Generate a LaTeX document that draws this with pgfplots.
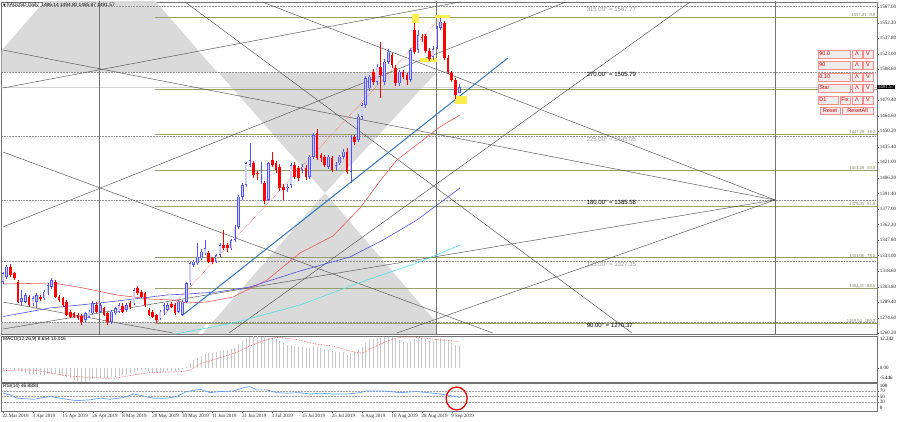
\documentclass[border=0pt]{standalone}
\usepackage{fontspec}
\setmainfont{Liberation Sans}
\newfontfamily\scalefont{Liberation Serif}
\newfontfamily\symfont{DejaVu Sans}
\usepackage{pgfplots}
\usepackage{pgfplotstable}
\pgfplotsset{compat=1.18}

\definecolor{bullc}{RGB}{85,85,255}
\definecolor{bullfill}{RGB}{205,205,255}
\definecolor{bearc}{RGB}{255,0,0}
\definecolor{fibc}{RGB}{150,160,110}
\definecolor{shade}{RGB}{218,218,218}
\definecolor{trendc}{RGB}{50,120,190}
\definecolor{mared}{RGB}{240,90,90}
\definecolor{mablue}{RGB}{80,80,235}
\definecolor{macyan}{RGB}{80,225,230}
\definecolor{rsic}{RGB}{100,160,240}

% candles: index, open, high, low, close
\pgfplotstableread{
i o h l c
0 1308.5 1318.0 1306.0 1316.4
1 1313.2 1324.5 1311.0 1322.6
5 1289.7 1300.7 1286.6 1292.8
6 1289.7 1298.0 1288.0 1296.0
8 1288.1 1295.0 1286.0 1292.8
9 1289.7 1298.0 1283.4 1296.0
11 1292.8 1300.5 1291.0 1299.1
12 1297.6 1307.0 1296.0 1305.4
13 1303.8 1311.7 1302.0 1310.1
22 1272.5 1280.0 1271.0 1278.7
23 1275.6 1282.0 1274.0 1280.3
24 1278.7 1290.0 1277.0 1288.1
26 1280.3 1288.0 1279.0 1286.6
29 1270.9 1282.0 1269.0 1280.3
30 1278.7 1285.0 1277.0 1283.4
31 1280.3 1288.0 1279.0 1286.6
33 1281.9 1288.0 1280.0 1286.6
35 1288.1 1303.0 1287.0 1300.7
42 1274.0 1282.0 1272.0 1280.3
43 1278.7 1288.0 1277.0 1286.6
44 1281.9 1288.0 1280.5 1286.6
47 1280.3 1291.0 1279.0 1289.7
48 1277.2 1291.0 1276.5 1289.7
49 1289.7 1308.0 1288.0 1307.0
50 1307.0 1327.0 1305.0 1325.8
51 1324.2 1329.0 1322.0 1327.3
52 1325.8 1344.6 1324.0 1332.1
53 1330.5 1339.0 1329.0 1336.8
54 1335.2 1347.7 1334.0 1339.9
57 1327.3 1335.0 1326.0 1333.6
58 1333.6 1344.5 1332.0 1343.0
61 1339.9 1349.0 1338.0 1347.7
62 1347.7 1362.0 1346.0 1360.3
63 1360.3 1390.0 1358.0 1388.5
64 1388.5 1401.0 1385.0 1399.5
65 1399.5 1421.5 1398.0 1419.9
66 1418.3 1438.7 1416.0 1423.0
69 1410.0 1421.0 1400.0 1410.6
71 1385.4 1421.0 1384.0 1419.9
76 1396.4 1400.0 1393.0 1397.9
77 1399.5 1420.0 1397.0 1418.3
80 1413.6 1419.0 1411.0 1416.8
82 1407.3 1428.0 1405.0 1426.2
83 1426.2 1448.0 1424.0 1446.6
87 1416.8 1428.0 1415.0 1426.2
89 1415.2 1421.0 1413.0 1418.3
90 1419.9 1428.0 1418.0 1426.2
91 1426.2 1433.0 1424.0 1430.9
93 1412.0 1447.0 1401.1 1445.0
95 1441.8 1466.0 1440.0 1463.8
96 1463.8 1477.0 1461.0 1474.8
97 1474.8 1502.0 1472.0 1499.9
98 1490.5 1503.0 1488.0 1501.5
100 1496.7 1513.0 1494.0 1510.9
102 1496.7 1518.0 1494.0 1515.6
103 1515.6 1527.0 1513.0 1525.0
106 1495.2 1508.0 1493.0 1506.2
109 1498.3 1528.0 1496.0 1526.5
111 1526.5 1545.0 1524.0 1540.6
115 1520.0 1530.0 1517.0 1527.0
116 1528.5 1549.0 1527.0 1547.3
117 1547.3 1557.0 1545.0 1553.2
122 1486.14 1494.80 1485.87 1491.57
}\bull

\pgfplotstableread{
i o h l c
2 1322.6 1325.0 1313.0 1314.8
3 1316.4 1318.0 1310.0 1311.7
4 1308.5 1310.0 1288.0 1289.7
7 1294.4 1296.0 1285.0 1286.6
10 1293.8 1296.0 1290.0 1291.9
14 1308.5 1310.0 1293.0 1294.4
15 1294.4 1296.0 1289.0 1291.3
16 1292.8 1294.0 1285.0 1286.6
17 1289.7 1291.0 1276.0 1277.2
18 1280.3 1282.0 1274.0 1275.6
19 1278.7 1280.0 1274.0 1275.6
20 1277.2 1279.0 1272.5 1274.0
21 1276.2 1278.0 1267.7 1270.9
25 1286.6 1289.0 1279.0 1280.3
27 1283.4 1285.0 1276.0 1277.2
28 1278.7 1280.0 1268.0 1270.9
32 1285.6 1288.0 1279.0 1280.3
34 1288.1 1290.0 1283.0 1285.0
36 1302.3 1304.0 1296.0 1297.6
37 1299.1 1300.5 1293.0 1294.4
38 1297.6 1299.0 1285.0 1286.6
39 1281.9 1284.0 1276.0 1277.2
40 1280.3 1282.0 1274.0 1275.6
41 1277.2 1278.5 1269.5 1272.5
45 1287.5 1289.0 1283.5 1285.0
46 1286.6 1288.0 1277.0 1278.7
55 1335.2 1337.0 1326.0 1327.3
56 1330.5 1332.0 1325.0 1327.3
59 1343.0 1357.1 1338.0 1339.9
60 1343.0 1344.5 1336.0 1339.9
67 1419.9 1422.0 1406.0 1408.9
68 1410.5 1413.0 1404.0 1409.9
70 1401.0 1403.0 1382.0 1384.0
72 1423.0 1431.0 1416.0 1418.3
73 1419.9 1422.0 1411.0 1413.6
74 1416.8 1419.0 1394.0 1396.4
75 1397.9 1400.0 1385.0 1394.8
78 1418.3 1421.0 1405.0 1407.3
79 1415.2 1417.0 1403.0 1405.8
81 1415.2 1418.0 1404.0 1407.3
84 1448.1 1452.5 1423.0 1424.6
85 1427.7 1430.0 1421.0 1424.6
86 1426.2 1428.0 1416.0 1418.3
88 1424.6 1427.0 1412.0 1413.6
92 1430.9 1434.0 1410.0 1412.0
94 1445.0 1447.0 1437.0 1440.3
99 1506.2 1509.0 1494.0 1496.7
101 1510.9 1534.4 1481.1 1503.0
104 1521.8 1524.0 1510.0 1512.4
105 1509.3 1512.0 1493.0 1495.2
107 1506.2 1508.0 1499.0 1501.5
108 1503.0 1505.0 1493.6 1498.3
110 1545.4 1552.0 1523.0 1525.0
112 1539.0 1542.0 1534.0 1538.4
113 1540.0 1542.0 1524.0 1526.0
114 1526.0 1528.0 1516.0 1518.0
118 1552.0 1554.0 1517.0 1519.0
119 1519.0 1522.0 1504.0 1505.8
120 1505.0 1507.0 1496.0 1498.3
121 1498.3 1500.0 1480.0 1484.2
}\bear

\pgfplotstableread{
i v
0 1306.3
13.4 1307.3
21.4 1302.6
30.5 1296.0
39.3 1292.2
45.5 1291.3
49.2 1288.5
54.5 1289.4
61.5 1294.1
70.6 1310.1
79.4 1335.5
88.2 1351.5
95.5 1377.9
100.8 1403.3
105.3 1423.0
112.3 1441.8
116.8 1454.1
122.2 1465.4
}\mared

\pgfplotstableread{
i v
0 1275.7
12.6 1283.8
25.9 1288.5
34.8 1292.2
43.9 1296.0
49.2 1296.9
57.2 1298.8
66.0 1303.5
79.4 1318.6
92.8 1331.8
101.6 1347.7
110.7 1366.6
122.2 1396.7
}\mablue

\pgfplotstableread{
i v
44.7 1258.3
61.5 1269.6
79.4 1286.6
97.3 1310.1
110.7 1326.1
122.2 1343.0
}\macyan

\pgfplotstableread{
i m
0 -0.8
1 -0.6
2 -0.5
3 -0.7
4 -1.2
5 -1.6
6 -1.9
7 -2.2
8 -2.4
9 -2.5
10 -2.6
11 -2.6
12 -2.5
13 -2.3
14 -2.5
15 -2.8
16 -3.1
17 -3.6
18 -4.0
19 -4.5
20 -5.1
21 -5.4
22 -5.3
23 -4.9
24 -4.4
25 -4.1
26 -3.9
27 -3.8
28 -3.9
29 -3.7
30 -3.4
31 -3.1
32 -2.9
33 -2.6
34 -2.3
35 -1.6
36 -1.1
37 -0.8
38 -0.9
39 -1.2
40 -1.5
41 -1.8
42 -1.8
43 -1.6
44 -1.4
45 -1.2
46 -1.2
47 -0.9
48 -0.6
49 0.4
50 1.8
51 2.9
52 3.8
53 4.6
54 5.3
55 5.6
56 5.7
57 5.9
58 6.3
59 6.7
60 6.9
61 7.2
62 7.8
63 9.1
64 10.2
65 11.4
66 12.0
67 12.24
68 12.1
69 11.9
70 11.3
71 11.5
72 11.4
73 11.0
74 10.3
75 9.5
76 8.8
77 8.8
78 8.5
79 8.1
80 7.9
81 7.5
82 7.6
83 8.4
84 8.2
85 7.8
86 7.2
87 6.9
88 6.4
89 6.0
90 5.9
91 5.9
92 5.0
93 5.6
94 5.9
95 6.9
96 8.0
97 9.6
98 10.6
99 11.1
100 11.6
101 11.6
102 11.8
103 12.0
104 11.7
105 11.0
106 10.6
107 10.1
108 9.6
109 10.2
110 10.9
111 11.3
112 11.3
113 10.9
114 10.4
115 10.3
116 10.9
117 11.5
118 11.0
119 10.2
120 9.6
121 8.9
122 8.654
}\macdhist

\pgfplotstableread{
i s
0 -1.1
8 -0.9
17 -3.0
25 -3.8
30 -3.9
39 -1.9
49 -1.2
53 1.6
62 5.7
66 8.4
71 11.0
73 11.7
78 11.0
84 9.1
88 8.4
93 6.4
96 5.7
98 7.1
102 9.8
106 11.7
111 11.7
115 11.0
120 10.4
122 10.016
}\macdsig

\pgfplotstableread{
i r
0 62
1.9 56
3.7 44
8.1 40
12.6 50
17.0 40
19.7 35
23.3 38
26.0 44
28.6 40
32.2 46
34.9 59
37.5 52
40.2 44
43.8 44
46.4 50
49.1 68
52.7 76
55.4 64
58.0 68
61.6 70
64.3 82
66.0 86
67.8 74
70.5 74
73.2 64
75.9 62
79.4 64
82.1 59
84.8 62
88.3 59
91.9 59
95.5 64
97.2 70
101.7 70
106.2 64
110.6 68
115.1 62
118.6 56
120.9 50
122.2 46.9
}\rsi

\pgfplotsset{
  mt/.style={scale only axis, anchor=south west, width=875.3pt,
    xmin=-0.35, xmax=233.7, clip mode=individual,
    axis line style={draw=black!55, line width=0.7pt},
    tick align=outside, major tick length=2pt,
    tick style={draw=black!60, line width=0.4pt},
    ticklabel style={font=\scalefont\fontsize{5}{5}\selectfont, text=black!85},
    xtick=\empty, ytick pos=right, yticklabel pos=right,
    yticklabel style={anchor=west, inner sep=0.6pt}},
  gl/.style={draw=black!68, line width=0.45pt},
  lvl/.style={draw=black!42, densely dotted, line width=0.55pt},
  fib/.style={draw=fibc, line width=0.8pt},
}
\tikzset{
  fibtxt/.style={anchor=south east, inner sep=0.4pt, font=\scalefont\fontsize{4.6}{5}\selectfont, text=fibc!75!black},
  gtxt/.style={anchor=north west, inner sep=0.5pt, font=\fontsize{6}{6}\selectfont},
}

\newcommand\bx[5]{\draw[draw=red!45, fill=black!7, line width=0.6pt] (#1pt,#2pt) rectangle (#3pt,#4pt);
  \path (#1pt,#2pt) -- (#3pt,#4pt) node[midway, inner sep=0pt, font=\fontsize{5.5}{6}\selectfont, text=red!85!black] {#5};}
\newcommand\bxl[5]{\draw[draw=red!45, fill=black!7, line width=0.6pt] (#1pt,#2pt) rectangle (#3pt,#4pt);
  \path (#1pt,#2pt) -- (#1pt,#4pt) node[midway, anchor=west, xshift=1.2pt, inner sep=0pt, font=\fontsize{5.5}{6}\selectfont, text=red!85!black] {#5};}

\begin{document}
\begin{tikzpicture}
\useasboundingbox (0,0) rectangle (900pt,422pt);
\fill[white] (0,0) rectangle (900pt,422pt);

% ---------------- price window ----------------
\begin{axis}[mt, at={(1.7pt,88pt)}, height=332pt,
  ymin=1259.3, ymax=1571.7,
  ytick={1567.00,1552.20,1537.80,1523.00,1508.60,1479.40,1464.60,1450.20,1435.40,1421.00,1406.20,1391.40,1377.00,1362.20,1347.80,1333.00,1318.60,1303.80,1289.40,1274.60,1260.20},
  yticklabels={1567.00,1552.20,1537.80,1523.00,1508.60,1479.40,1464.60,1450.20,1435.40,1421.00,1406.20,1391.40,1377.00,1362.20,1347.80,1333.00,1318.60,1303.80,1289.40,1274.60,1260.20},
]
% shaded gann triangles
\addplot[fill=shade, draw=none] coordinates {(25.9,1632.9) (-5.3,1505.8) (57.2,1505.8)};
\addplot[fill=shade, draw=none] coordinates {(57.5,1505.8) (116.0,1505.8) (86.1,1392.0)};
\addplot[fill=shade, draw=none] coordinates {(86.1,1392.0) (116.0,1269.6) (116.0,1250) (51.0,1250)};
\addplot[fill=shade, draw=none] coordinates {(-2.9,1270.6) (54.8,1270.6) (25.9,1153.9)};

% fibonacci levels
\addplot[fib] coordinates {(40.6,1557.01) (240,1557.01)};
\addplot[fib] coordinates {(40.6,1489.17) (240,1489.17)};
\addplot[fib] coordinates {(40.6,1447.20) (240,1447.20)};
\addplot[fib] coordinates {(40.6,1413.28) (240,1413.28)};
\addplot[fib] coordinates {(40.6,1379.35) (240,1379.35)};
\addplot[fib] coordinates {(40.6,1331.06) (240,1331.06)};
\addplot[fib] coordinates {(40.6,1302.31) (240,1302.31)};
\addplot[fib] coordinates {(40.6,1269.54) (240,1269.54)};

% gann levels
\addplot[lvl] coordinates {(-1,1567.77) (240,1567.77)};
\addplot[lvl] coordinates {(-1,1505.79) (240,1505.79)};
\addplot[lvl] coordinates {(-1,1445.05) (240,1445.05)};
\addplot[lvl] coordinates {(-1,1385.58) (240,1385.58)};
\addplot[lvl] coordinates {(-1,1327.35) (240,1327.35)};
\addplot[lvl] coordinates {(-1,1270.37) (240,1270.37)};
\addplot[draw=black!18, line width=0.8pt] coordinates {(-1,1491.57) (240,1491.57)};

% time verticals
\addplot[draw=black!55, line width=0.8pt] coordinates {(25.9,1250) (25.9,1580)};
\addplot[draw=black!55, line width=0.8pt] coordinates {(116.0,1250) (116.0,1580)};
\addplot[draw=black!55, line width=0.8pt] coordinates {(206.4,1250) (206.4,1580)};

% gann angle lines
\addplot[gl] coordinates {(0,1526.5) (206.4,1385.4)};
\addplot[gl] coordinates {(0,1490.8) (122.2,1571.7)};
\addplot[gl] coordinates {(0,1430.5) (131.0,1260.2)};
\addplot[gl] coordinates {(0,1360.0) (150.5,1571.7)};
\addplot[gl] coordinates {(48.7,1571.7) (168.2,1260.2)};
\addplot[gl] coordinates {(0,1289.4) (45.5,1260.2)};
\addplot[gl] coordinates {(0,1264.0) (206.4,1385.4)};
\addplot[gl] coordinates {(69.3,1571.7) (206.4,1385.4)};
\addplot[gl] coordinates {(105.3,1260.2) (206.4,1385.4)};
\addplot[gl] coordinates {(60.4,1260.2) (183.7,1571.7)};

% moving averages
\addplot[draw=mared, line width=0.6pt] table[x=i, y=v] {\mared};
\addplot[draw=mablue, line width=0.6pt] table[x=i, y=v] {\mablue};
\addplot[draw=macyan, line width=0.6pt] table[x=i, y=v] {\macyan};

% trend line and fibo baseline
\addplot[draw=trendc, line width=1.0pt] coordinates {(48.1,1277.2) (135.0,1519.0)};
\addplot[draw=red!60, densely dotted, line width=0.6pt] coordinates {(41,1269.54) (117,1557.01)};

% highlight boxes
\addplot[fill=yellow!90!orange!70, draw=none] coordinates {(109.4,1560.4) (111.2,1560.4) (111.2,1551.9) (109.4,1551.9)};
\addplot[fill=yellow!90!orange!70, draw=none] coordinates {(115.5,1559.5) (119.5,1559.5) (119.5,1556.6) (115.5,1556.6)};
\addplot[fill=yellow!90!orange!70, draw=none] coordinates {(111.5,1519.0) (116.0,1519.0) (116.0,1515.2) (111.5,1515.2)};
\addplot[fill=yellow!90!orange!70, draw=none] coordinates {(120.9,1483.3) (124.1,1483.3) (124.1,1475.7) (120.9,1475.7)};

% candles
\addplot[bullc, line width=0.6pt, quiver={u=0, v=\thisrow{h}-\thisrow{l}}] table[x=i, y=l] {\bull};
\addplot[bearc, line width=0.6pt, quiver={u=0, v=\thisrow{h}-\thisrow{l}}] table[x=i, y=l] {\bear};
\addplot[bullc, line width=2.6pt, quiver={u=0, v=\thisrow{c}-\thisrow{o}}] table[x=i, y=o] {\bull};
\addplot[bullfill, line width=1.2pt, quiver={u=0, v=\thisrow{c}-\thisrow{o}-1.2}] table[x=i, y expr=\thisrow{o}+0.6] {\bull};
\addplot[bearc, line width=2.6pt, quiver={u=0, v=\thisrow{c}-\thisrow{o}}] table[x=i, y=o] {\bear};

% level labels
\node[gtxt, text=black!40] at (axis cs:155.9,1567.77) {315.00° = 1567.77};
\node[gtxt] at (axis cs:155.9,1505.79) {270.00° = 1505.79};
\node[gtxt, text=black!40] at (axis cs:155.9,1445.05) {225.00° = 1445.05};
\node[gtxt] at (axis cs:155.9,1385.58) {180.00° = 1385.58};
\node[gtxt, text=black!40] at (axis cs:155.9,1327.35) {135.00° = 1327.35};
\node[gtxt] at (axis cs:155.9,1270.37) {90.00° = 1270.37};

\node[fibtxt] at (axis cs:233.4,1557.01) {1557.01\hspace{3pt}0.0};
\node[fibtxt] at (axis cs:233.4,1447.20) {1447.20\hspace{3pt}38.2};
\node[fibtxt] at (axis cs:233.4,1413.28) {1413.28\hspace{3pt}50.0};
\node[fibtxt] at (axis cs:233.4,1379.35) {1379.35\hspace{3pt}61.8};
\node[fibtxt] at (axis cs:233.4,1331.06) {1331.06\hspace{3pt}78.6};
\node[fibtxt] at (axis cs:233.4,1302.31) {1302.31\hspace{3pt}88.6};
\node[fibtxt] at (axis cs:233.4,1269.54) {1269.54\hspace{3pt}100.0};

\node[anchor=west, fill=black, text=white, inner sep=0.5pt, font=\scalefont\fontsize{5}{5}\selectfont] at (axis cs:233.75,1491.57) {1491.57};
\end{axis}

% ---------------- MACD window ----------------
\begin{axis}[mt, at={(1.7pt,40pt)}, height=46pt,
  ymin=-5.446, ymax=12.242, ytick={0}, yticklabels={0.00}]
\addplot[draw=black!22, line width=0.8pt, quiver={u=0, v=\thisrow{m}}] table[x=i, y expr=0] {\macdhist};
\addplot[draw=red!75, densely dotted, line width=0.6pt, smooth] table[x=i, y=s] {\macdsig};
\end{axis}

% ---------------- RSI window ----------------
\begin{axis}[mt, at={(1.7pt,11pt)}, height=28pt,
  ymin=-2.5, ymax=99, ytick={30,50,70}, yticklabels={30,50,70},
  xtick={0,8,...,120}, xtick pos=bottom,
  xticklabels={22 Mar 2019,3 Apr 2019,15 Apr 2019,26 Apr 2019,8 May 2019,20 May 2019,30 May 2019,11 Jun 2019,21 Jun 2019,3 Jul 2019,15 Jul 2019,25 Jul 2019,6 Aug 2019,16 Aug 2019,28 Aug 2019,9 Sep 2019},
  xticklabel style={anchor=north west, inner sep=0.5pt, xshift=-1pt}]
\addplot[draw=black!35, densely dotted, line width=0.5pt] coordinates {(-1,70) (240,70)};
\addplot[draw=black!35, densely dotted, line width=0.5pt] coordinates {(-1,50) (240,50)};
\addplot[draw=black!35, densely dotted, line width=0.5pt] coordinates {(-1,30) (240,30)};
\addplot[draw=rsic, line width=0.7pt] table[x=i, y=r] {\rsi};
\draw[red!90!black, line width=1.3pt] (axis cs:121.3,42.8) ellipse [x radius=10.5pt, y radius=11.5pt];
\end{axis}

% window captions and scale extremes
\node[anchor=west, inner sep=0pt, font=\fontsize{4.8}{5}\selectfont] at (3pt,416.5pt) {{\symfont\fontsize{3.5}{4}\selectfont ▼}\,XAUUSD,Daily\ \ 1486.14 1494.80 1485.87 1491.57};
\node[anchor=west, inner sep=0pt, font=\fontsize{4.8}{5}\selectfont] at (3pt,82.5pt) {MACD(12,26,9) 8.654 10.016};
\node[anchor=west, inner sep=0pt, font=\fontsize{4.8}{5}\selectfont] at (3pt,35.5pt) {RSI(14) 46.8884};
\node[anchor=west, inner sep=0.6pt, font=\scalefont\fontsize{5}{5}\selectfont] at (879pt,83.5pt) {12.242};
\node[anchor=west, inner sep=0.6pt, font=\scalefont\fontsize{5}{5}\selectfont] at (879pt,44pt) {-5.446};
\node[anchor=west, inner sep=0.6pt, font=\scalefont\fontsize{5}{5}\selectfont] at (879pt,36.3pt) {100};
\node[anchor=west, inner sep=0.6pt, font=\scalefont\fontsize{5}{5}\selectfont] at (879pt,14pt) {0};

% control panel
\bxl{818}{372}{850}{364}{90.0}\bx{852}{372}{862}{364}{Λ}\bx{863}{372}{873}{364}{V}
\bxl{818}{361}{850}{353}{90}\bx{852}{361}{862}{353}{Λ}\bx{863}{361}{873}{353}{V}
\bxl{818}{349}{850}{341}{0.10}\bx{852}{349}{862}{341}{Λ}\bx{863}{349}{873}{341}{V}
\bxl{818}{338}{850}{330}{Star}\bx{852}{338}{862}{330}{Λ}\bx{863}{338}{873}{330}{V}
\bxl{818}{326}{838}{318}{D1}\bx{840}{326}{850}{318}{Fix}\bx{852}{326}{862}{318}{Λ}\bx{863}{326}{873}{318}{V}
\bx{820}{315}{840}{308}{Reset}\bx{842}{315}{873}{308}{ResetAll}
\end{tikzpicture}
\end{document}
